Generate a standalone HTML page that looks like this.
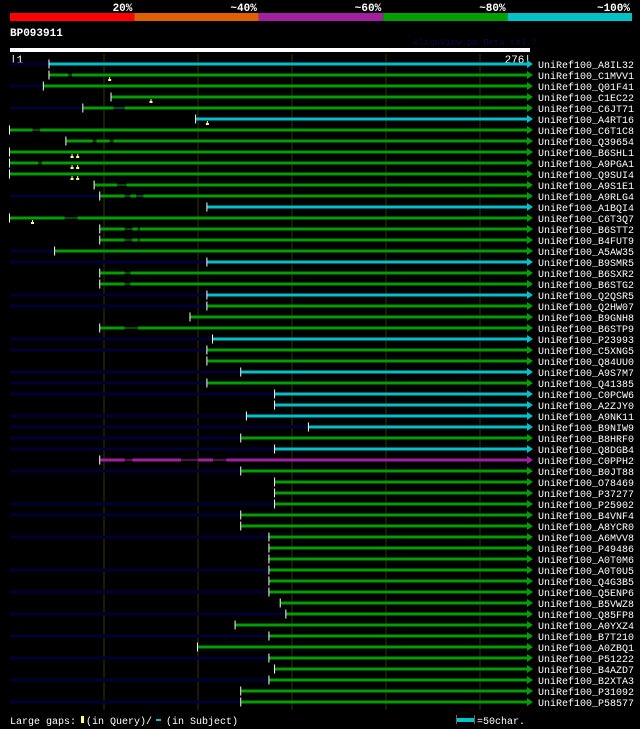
<!DOCTYPE html>
<html><head><meta charset="utf-8"><style>
body{margin:0;background:#000;width:640px;height:729px;overflow:hidden}
svg{display:block}
text{font-family:"Liberation Mono","DejaVu Sans Mono",monospace;fill:#fff}
</style></head><body>
<svg id="chart" width="640" height="729" xmlns="http://www.w3.org/2000/svg"></svg>
<script>
const names=["A8IL32","C1MVV1","Q01F41","C1EC22","C6JT71","A4RT16","C6T1C8","Q39654","B6SHL1","A9PGA1","Q9SUI4","A9S1E1","A9RLG4","A1BQI4","C6T3Q7","B6STT2","B4FUT9","A5AW35","B9SMR5","B6SXR2","B6STG2","Q2QSR5","Q2HW07","B9GNH8","B6STP9","P23993","C5XNG5","Q84UU0","A9S7M7","Q41385","C0PCW6","A2ZJY0","A9NK11","B9NIW9","B8HRF0","Q8DGB4","C0PPH2","B0JT88","O78469","P37277","P25902","B4VNF4","A8YCR0","A6MVV8","P49486","A0T0M6","A0T0U5","Q4G3B5","Q5ENP6","B5VWZ8","Q85FP8","A0YXZ4","B7T210","A0ZBQ1","P51222","B4AZD7","B2XTA3","P31092","P58577"];
const starts=[22,22,19,55,40,100,1,31,1,1,1,46,49,106,1,49,49,25,106,49,49,106,106,97,49,109,106,106,124,106,142,142,127,160,124,142,49,124,142,142,142,124,124,139,139,139,139,139,139,145,148,121,139,101,139,142,139,124,124];
const identity=[5,4,4,4,4,5,4,4,4,4,4,4,4,5,4,4,4,4,5,4,4,5,4,4,4,5,4,4,5,4,5,5,5,5,4,5,3,4,4,4,4,4,4,4,4,4,4,4,4,4,4,4,4,4,4,4,4,4,4];
const hasQueryLine=[1,0,1,0,1,0,0,0,0,0,0,0,1,0,0,0,0,1,1,0,0,1,1,0,0,1,1,0,1,1,1,0,1,1,1,1,0,1,0,0,1,1,0,1,0,0,1,0,1,0,1,0,1,0,1,0,1,0,1];
const gaps={1:[[32,34]],4:[[56,62]],6:[[13,17]],7:[[45,47],[54,56]],9:[[16,18]],11:[[58,63]],12:[[62,65],[68,72]],14:[[30,37]],15:[[62,66],[69,70]],16:[[62,66],[69,70]],19:[[62,65]],20:[[62,65]],24:[[62,69]],36:[[62,66],[92,101],[109,116]]};
const markers={1:[54],3:[76],5:[106],8:[34,37],9:[34,37],10:[34,37],14:[13]};
const colors=["#ff0000","#e06000","#a020a0","#00a000","#00c0c8"];
const barColors={3:"#a020a0",4:"#009e00",5:"#00c0c8"};
const ticks=[1,276];
const LEN=276;
const X=r=>10+(r-1)*517/(LEN-1);
const rowY=i=>64+i*11;
const svg=document.getElementById('chart');
const NS="http://www.w3.org/2000/svg";
function mk(tag,attrs,parent){const e=document.createElementNS(NS,tag);for(const k in attrs)e.setAttribute(k,attrs[k]);(parent||svg).appendChild(e);return e;}
const pct=["20%","~40%","~60%","~80%","~100%"];
for(let i=0;i<5;i++){
 const r=mk('rect',{x:10+i*124.4,y:13,width:124.4,height:8,fill:colors[i]});
 
 
 const t=mk('text',{x:10+(i+1)*124.4-2,y:11,'text-anchor':'end','font-size':'11','font-weight':'bold'});
 t.textContent=pct[i];
 
 
}
let t=mk('text',{x:10,y:36,'font-size':'11','font-weight':'bold'});t.textContent="BP093911";

t=mk('text',{x:413,y:45,'font-size':'9',style:'fill:#0a0a40'});t.textContent="AlignView.pm Beta rel.7";

let r=mk('rect',{x:10,y:48,width:520,height:4,fill:'#fff'});

t=mk('text',{x:10,y:63,'font-size':'11'});t.textContent="|"+ticks[0];

t=mk('text',{x:531,y:63,'font-size':'11','text-anchor':'end'});t.textContent=ticks[1]+"|";

for(let g=1;g<=5;g++){
 const l=mk('line',{x1:10+g*94,x2:10+g*94,y1:54,y2:710,stroke:'#333300','stroke-width':1});
 
}
names.forEach((n,i)=>{
 const y=rowY(i);const s=starts[i];const col=barColors[identity[i]];
 const g=mk('g',{});
 
 
 if(hasQueryLine[i]) mk('rect',{x:10,y:y-1.5,width:517,height:3,fill:'#000033'},g);
 const segs=[];let cur=s;(gaps[i]||[]).forEach(([a,b])=>{segs.push([cur,a]);cur=b;});segs.push([cur,LEN]);
 segs.forEach(([a,b])=>mk('rect',{x:X(a),y:y-1.5,width:X(b)-X(a),height:3,fill:col},g));
 (gaps[i]||[]).forEach(([a,b])=>mk('rect',{x:X(a),y:y-0.5,width:X(b)-X(a),height:1,fill:col},g));
 mk('rect',{x:X(s)-1,y:y-4.5,width:1,height:9,fill:'#fff'},g);
 mk('polygon',{points:`${X(LEN)},${y-4} ${X(LEN)+6},${y} ${X(LEN)},${y+4}`,fill:col},g);
 (markers[i]||[]).forEach(m=>{mk('rect',{x:X(m)-0.5,y:y+2,width:1,height:2,fill:'#ffff80'},g);mk('rect',{x:X(m)-1.5,y:y+4,width:3,height:2,fill:'#ffff80'},g);});
 const tx=mk('text',{x:538,y:y+4,'font-size':'10'},g);tx.textContent="UniRef100_"+n;
});
t=mk('text',{x:10,y:724,'font-size':'10'});t.textContent="Large gaps:";

mk('rect',{x:81,y:716,width:3,height:7,fill:'#ffff80'});
t=mk('text',{x:86,y:724,'font-size':'10'});t.textContent="(in Query)/";

mk('rect',{x:156,y:719,width:5,height:2,fill:'#00c0c8'});
t=mk('text',{x:166,y:724,'font-size':'10'});t.textContent="(in Subject)";

mk('rect',{x:457,y:718,width:17,height:4,fill:'#00c0c8'});
mk('rect',{x:456,y:715,width:1,height:9,fill:'#666'});mk('rect',{x:474,y:715,width:1,height:9,fill:'#666'});
t=mk('text',{x:477,y:724,'font-size':'10'});t.textContent="=50char.";

</script>
</body></html>
